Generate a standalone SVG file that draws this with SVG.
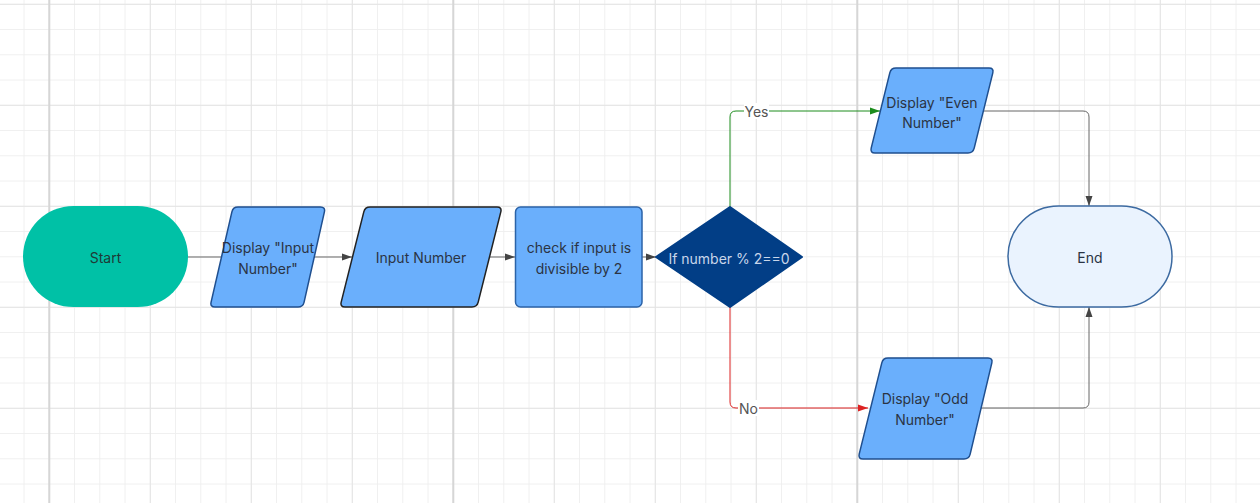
<svg xmlns="http://www.w3.org/2000/svg" width="1260" height="503" viewBox="0 0 1260 503">
<style>
.t{font-family:Inter,"Noto Sans","Liberation Sans",sans-serif;font-size:14px;fill:#2a3444;text-anchor:middle;dominant-baseline:central}
.para{fill:#6aaffc;stroke:#1f4f8f;stroke-width:1.5;stroke-linejoin:round}
.c{fill:none;stroke:#666;stroke-width:1}
.lbl{font-family:Inter,"Noto Sans","Liberation Sans",sans-serif;font-size:14px;fill:#555;text-anchor:middle;dominant-baseline:central}
</style>
<defs>
<pattern id="minor" patternUnits="userSpaceOnUse" x="-1.7" y="3.8" width="25.25" height="25.25">
<rect x="0" y="0" width="1" height="25.25" fill="#efefef"/>
<rect x="0" y="0" width="25.25" height="1" fill="#efefef"/>
</pattern>
<pattern id="medium" patternUnits="userSpaceOnUse" x="48.8" y="3.8" width="101" height="101">
<rect x="0" y="0" width="1" height="101" fill="#e4e4e4"/>
<rect x="0" y="0" width="101" height="1" fill="#e4e4e4"/>
</pattern>
<marker id="aG" markerUnits="userSpaceOnUse" markerWidth="10" markerHeight="8" refX="10" refY="4" orient="auto"><path d="M0,0.5 L10,4 L0,7.5 z" fill="#444"/></marker>
<marker id="aGr" markerUnits="userSpaceOnUse" markerWidth="10" markerHeight="8" refX="10" refY="4" orient="auto"><path d="M0,0.5 L10,4 L0,7.5 z" fill="#1c8c1c"/></marker>
<marker id="aR" markerUnits="userSpaceOnUse" markerWidth="10" markerHeight="8" refX="10" refY="4" orient="auto"><path d="M0,0.5 L10,4 L0,7.5 z" fill="#dd2222"/></marker>
</defs>
<rect width="1260" height="503" fill="#ffffff"/>
<rect width="1260" height="503" fill="url(#minor)"/>
<rect width="1260" height="503" fill="url(#medium)"/>
<rect x="48.3" y="0" width="2" height="503" fill="#d6d6d6"/>
<rect x="452.3" y="0" width="2" height="503" fill="#d6d6d6"/>
<rect x="856.3" y="0" width="2" height="503" fill="#d6d6d6"/>

<g id="connectors">
<path class="c" d="M188,257 H222"/>
<path class="c" d="M314,257 H352" marker-end="url(#aG)"/>
<path class="c" d="M489.5,257 H515" marker-end="url(#aG)"/>
<path class="c" d="M642,257 H656" marker-end="url(#aG)"/>
<path d="M730,207 V117 Q730,111 736,111 H880" fill="none" stroke="#1c8c1c" stroke-width="1" marker-end="url(#aGr)"/>
<path d="M730,307 V402 Q730,408 736,408 H868" fill="none" stroke="#dd2222" stroke-width="1" marker-end="url(#aR)"/>
<path class="c" d="M983,111 H1083 Q1089,111 1089,117 V206" marker-end="url(#aG)"/>
<path class="c" d="M981,408 H1083 Q1089,408 1089,402 V307" marker-end="url(#aG)"/>
<rect x="744" y="103" width="25" height="16" fill="#ffffff"/>
<text class="lbl" x="756.5" y="111">Yes</text>
<rect x="738" y="400" width="21" height="16" fill="#ffffff"/>
<text class="lbl" x="748.5" y="408.5">No</text>
</g>

<g id="start">
<rect x="23" y="206" width="165" height="101" rx="50.5" fill="#00c1a6"/>
<text class="t" x="105.5" y="257" style="fill:#1f3a36">Start</text>
</g>

<g id="display-input">
<path class="para" d="M238,207 H320.5 Q325.5,207 324.4,211.9 L304.1,302.1 Q303,307 298,307 H215 Q210,307 211.1,302.1 L231.9,211.9 Q233,207 238,207 Z"/>
<text class="t" x="268" y="247">Display "Input</text>
<text class="t" x="268" y="268">Number"</text>
</g>

<g id="input-number">
<path class="para" d="M370,207 H497 Q502,207 500.8,211.85 L478.2,302.15 Q477,307 472,307 H345 Q340,307 341.2,302.15 L363.8,211.85 Q365,207 370,207 Z" style="stroke:#222"/>
<text class="t" x="421" y="257">Input Number</text>
</g>

<g id="check">
<rect x="515.5" y="207" width="126.5" height="100" rx="5" fill="#6aaffc" stroke="#2b63a8" stroke-width="1.5"/>
<text class="t" x="579" y="247">check if input is</text>
<text class="t" x="579" y="268">divisible by 2</text>
</g>

<g id="decision">
<polygon points="730,207 802,257 730,307 656,257" fill="#023e86" stroke="#023e86" stroke-width="2" stroke-linejoin="round"/>
<text class="t" x="729" y="258" style="fill:#c9d6ea">If number % 2==0</text>
</g>

<g id="display-even">
<path class="para" d="M896,68 H989 Q994,68 992.8,72.85 L974.2,148.15 Q973,153 968,153 H875 Q870,153 871.2,148.15 L889.8,72.85 Q891,68 896,68 Z"/>
<text class="t" x="932" y="102">Display "Even</text>
<text class="t" x="932" y="122">Number"</text>
</g>

<g id="display-odd">
<path class="para" d="M888,358 H988 Q993,358 991.84,362.87 L970.16,454.13 Q969,459 964,459 H863 Q858,459 859.2,454.13 L881.8,362.87 Q883,358 888,358 Z"/>
<text class="t" x="925" y="398">Display "Odd</text>
<text class="t" x="925" y="419">Number"</text>
</g>

<g id="end">
<rect x="1008" y="206" width="164" height="101" rx="50.5" fill="#eaf3fe" stroke="#3c6aa1" stroke-width="1.5"/>
<text class="t" x="1090" y="257">End</text>
</g>
</svg>
